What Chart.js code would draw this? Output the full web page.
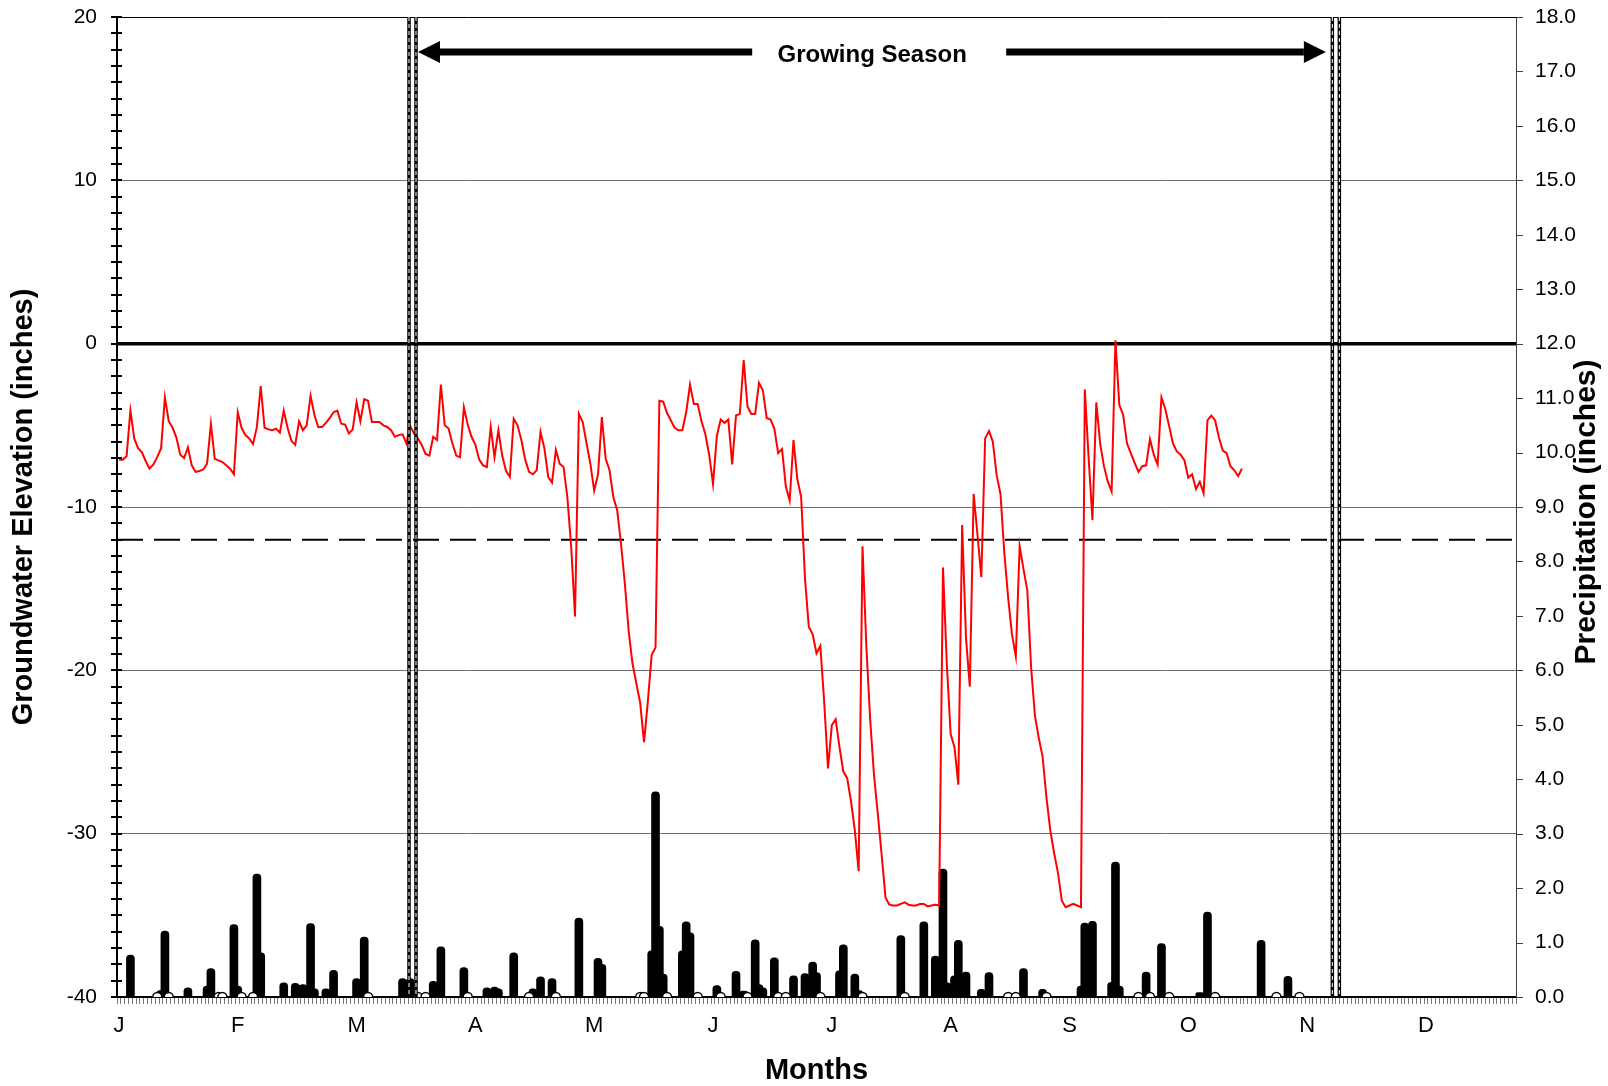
<!DOCTYPE html>
<html>
<head>
<meta charset="utf-8">
<title>Groundwater Elevation and Precipitation</title>
<script src="https://cdn.jsdelivr.net/npm/chart.js"></script>
<style>
  body { margin: 0; background: #fff; }
  #wrap { width: 1608px; height: 1086px; }
</style>
</head>
<body>
<div id="wrap"><canvas id="gwChart" width="1608" height="1086"></canvas></div>
<script>
// month labels, one every 31 days along a 365 day axis
var monthLabels = ['J', 'F', 'M', 'A', 'M', 'J', 'J', 'A', 'S', 'O', 'N', 'D'];
var labelEvery = 31;
var dayCount = 365;

// daily groundwater elevation (inches), from Jan 1
var groundwater = [
  -7.1, -7.1, -6.9, -4.1, -5.8, -6.4, -6.65, -7.2, -7.65, -7.4,
  -6.95, -6.4, -3.3, -4.75, -5.15, -5.75, -6.8, -7.0, -6.35, -7.45,
  -7.85, -7.8, -7.7, -7.35, -4.9, -7.05, -7.15, -7.25, -7.45, -7.65,
  -8.0, -4.2, -5.15, -5.6, -5.8, -6.15, -5.1, -2.6, -5.15, -5.25,
  -5.3, -5.2, -5.45, -4.1, -5.15, -5.95, -6.2, -4.75, -5.3, -5.0,
  -3.2, -4.35, -5.1, -5.1, -4.85, -4.55, -4.2, -4.1, -4.9, -4.95,
  -5.5, -5.25, -3.6, -4.75, -3.4, -3.5, -4.8, -4.8, -4.8, -5.0,
  -5.1, -5.3, -5.7, -5.6, -5.55, -6.1, -5.05, -5.5, -5.8, -6.2,
  -6.75, -6.85, -5.7, -5.9, -2.5, -5.0, -5.2, -6.1, -6.85, -6.95,
  -3.9, -4.95, -5.7, -6.2, -7.1, -7.45, -7.55, -5.1, -6.95, -5.3,
  -6.85, -7.8, -8.15, -4.6, -5.0, -5.9, -7.1, -7.85, -8.0, -7.75,
  -5.4, -6.4, -8.15, -8.5, -6.5, -7.35, -7.55, -9.4, -12.45, -16.7,
  -4.3, -4.8, -6.1, -7.35, -9.0, -8.0, -4.5, -7.05, -7.75, -9.4,
  -10.2, -12.25, -14.7, -17.6, -19.6, -20.8, -22.0, -24.4, -21.9, -19.05,
  -18.6, -3.5, -3.55, -4.25, -4.7, -5.15, -5.3, -5.3, -4.2, -2.5,
  -3.7, -3.7, -4.75, -5.55, -6.8, -8.6, -5.65, -4.65, -4.85, -4.65,
  -7.4, -4.4, -4.3, -1.0, -3.85, -4.3, -4.3, -2.4, -2.85, -4.55,
  -4.65, -5.2, -6.7, -6.45, -8.75, -9.6, -5.9, -8.3, -9.4, -14.4,
  -17.35, -17.8, -18.95, -18.5, -21.9, -26.0, -23.35, -23.0, -24.7, -26.2,
  -26.6, -28.0, -29.8, -32.3, -12.4, -18.5, -23.0, -26.4, -28.8, -31.3,
  -33.9, -34.35, -34.4, -34.4, -34.3, -34.2, -34.35, -34.4, -34.4, -34.3,
  -34.3, -34.45, -34.4, -34.35, -34.4, -13.7, -19.6, -23.9, -24.7, -27.0,
  -11.1, -18.0, -21.0, -9.2, -11.7, -14.3, -5.8, -5.35, -6.0, -8.05,
  -9.2, -12.8, -15.55, -17.8, -19.15, -12.4, -13.8, -15.1, -19.85, -22.8,
  -24.15, -25.3, -27.8, -29.8, -31.2, -32.4, -34.1, -34.5, -34.4, -34.3,
  -34.4, -34.5, -2.8, -7.0, -10.8, -3.6, -6.1, -7.5, -8.45, -9.05,
  0.2, -3.75, -4.35, -6.1, -6.7, -7.3, -7.85, -7.5, -7.45, -5.85,
  -6.8, -7.4, -3.3, -4.0, -5.05, -6.1, -6.6, -6.8, -7.15, -8.2,
  -8.0, -8.9, -8.45, -9.15, -4.7, -4.4, -4.7, -5.75, -6.55, -6.7,
  -7.5, -7.75, -8.1, -7.65
];

// daily precipitation (inches): day index (0 = Jan 1) and amount
var rainDays = [
  3, 11, 12, 18, 23, 24, 30, 31, 36, 37, 43, 46, 47, 48, 50, 51, 54, 56,
  62, 64, 74, 76, 82, 84, 90, 96, 98, 99, 103, 108, 110, 113, 120, 125, 126,
  139, 140, 141, 142, 147, 148, 149, 156, 161, 163, 166, 167, 168, 171, 176,
  179, 181, 182, 188, 189, 192, 193, 204, 210, 213, 215, 216, 218, 219, 221,
  225, 227, 236, 241, 251, 252, 254, 259, 260, 261, 268, 272, 282, 284, 298, 305
];
var rainInches = [
  0.77, 0.12, 1.21, 0.17, 0.2, 0.52, 1.33, 0.2, 2.26, 0.81, 0.26, 0.25, 0.21, 0.23, 1.35, 0.15, 0.15, 0.49,
  0.34, 1.1, 0.34, 0.34, 0.29, 0.92, 0.54, 0.17, 0.18, 0.15, 0.81, 0.15, 0.37, 0.34, 1.45, 0.71, 0.6,
  0.85, 3.77, 1.3, 0.42, 0.85, 1.38, 1.18, 0.21, 0.47, 0.11, 1.05, 0.23, 0.17, 0.72, 0.39,
  0.43, 0.64, 0.45, 0.48, 0.96, 0.42, 0.12, 1.13, 1.38, 0.75, 2.35, 0.26, 0.39, 1.04, 0.46,
  0.14, 0.45, 0.52, 0.14, 0.2, 1.36, 1.39, 0.27, 2.48, 0.2, 0.46, 0.98, 0.08, 1.56, 1.04, 0.38
];

// days with a trace of rain (open circles on the baseline)
var traceDays = [
  10, 13, 26, 27, 32, 35, 65, 78, 80, 91, 107, 114, 136, 137, 143, 151, 157,
  164, 172, 174, 183, 194, 205, 232, 234, 242, 266, 269, 274, 286, 302, 308
];

var thresholdLevel = -12;          // dashed reference line
var growingSeason = [76.6, 317.5]; // start / end of growing season (day index)
var arrowLevel = 17.85;            // height of the Growing Season arrows

var days = [];
var rainSeries = [];
var traceSeries = [];
for (var i = 0; i < dayCount; i++) {
  days.push(String(i + 1));
  rainSeries.push(null);
  traceSeries.push(null);
}
rainDays.forEach(function (d, k) { rainSeries[d] = rainInches[k]; });
traceDays.forEach(function (d) { traceSeries[d] = 0; });

Chart.defaults.font.family = "'Liberation Sans', Arial, sans-serif";
Chart.defaults.color = '#000';

function drawArrow(ctx, fromX, toX, y) {
  var dir = toX > fromX ? 1 : -1;
  var headLen = 22, headHalf = 11;
  ctx.beginPath();
  ctx.lineWidth = 7;
  ctx.strokeStyle = '#000';
  ctx.moveTo(fromX, y);
  ctx.lineTo(toX - dir * headLen, y);
  ctx.stroke();
  ctx.beginPath();
  ctx.fillStyle = '#000';
  ctx.moveTo(toX, y);
  ctx.lineTo(toX - dir * headLen, y - headHalf);
  ctx.lineTo(toX - dir * headLen, y + headHalf);
  ctx.closePath();
  ctx.fill();
}

function drawDoubleLine(ctx, x, top, bottom) {
  [-3.5, 3.5].forEach(function (dx) {
    ctx.beginPath();
    ctx.lineWidth = 3.5;
    ctx.strokeStyle = '#000';
    ctx.setLineDash([]);
    ctx.moveTo(x + dx, top);
    ctx.lineTo(x + dx, bottom);
    ctx.stroke();
    ctx.beginPath();
    ctx.lineWidth = 1;
    ctx.strokeStyle = '#fff';
    ctx.setLineDash([4, 3]);
    ctx.moveTo(x + dx, top);
    ctx.lineTo(x + dx, bottom);
    ctx.stroke();
  });
  ctx.setLineDash([]);
}

var decorPlugin = {
  id: 'decor',
  beforeDatasetsDraw: function (chart) {
    var ctx = chart.ctx, area = chart.chartArea;
    var y = chart.scales.y.getPixelForValue(thresholdLevel);
    ctx.save();
    ctx.beginPath();
    ctx.lineWidth = 2;
    ctx.strokeStyle = '#000';
    ctx.setLineDash([26, 11]);
    ctx.moveTo(area.left, y);
    ctx.lineTo(area.right, y);
    ctx.stroke();
    ctx.restore();
  },
  afterDatasetsDraw: function (chart) {
    var ctx = chart.ctx, area = chart.chartArea;
    var xs = chart.scales.x, ys = chart.scales.y, yr = chart.scales.yR;
    ctx.save();

    // growing season boundaries
    var x1 = xs.getPixelForValue(growingSeason[0]);
    var x2 = xs.getPixelForValue(growingSeason[1]);
    drawDoubleLine(ctx, x1, area.top, area.bottom);
    drawDoubleLine(ctx, x2, area.top, area.bottom);

    // arrows and label
    var ay = ys.getPixelForValue(arrowLevel);
    var mid = (x1 + x2) / 2 - 2;
    drawArrow(ctx, mid - 120, x1 + 5.5, ay);
    drawArrow(ctx, mid + 134, x2 - 10, ay);
    ctx.font = "bold 24px 'Liberation Sans', Arial, sans-serif";
    ctx.fillStyle = '#000';
    ctx.textAlign = 'center';
    ctx.textBaseline = 'middle';
    ctx.fillText('Growing Season', mid, ay + 3);

    // minor ticks crossing the left axis
    ctx.lineWidth = 2;
    ctx.strokeStyle = '#000';
    for (var v = ys.min; v <= ys.max; v++) {
      var ty = Math.round(ys.getPixelForValue(v));
      ctx.beginPath();
      ctx.moveTo(area.left - 6, ty);
      ctx.lineTo(area.left + 5, ty);
      ctx.stroke();
    }

    // outward ticks on the right axis
    ctx.lineWidth = 1;
    ctx.strokeStyle = '#404040';
    for (var r = yr.min; r <= yr.max; r++) {
      var ry = Math.round(yr.getPixelForValue(r)) + 0.5;
      ctx.beginPath();
      ctx.moveTo(area.right, ry);
      ctx.lineTo(area.right + 7, ry);
      ctx.stroke();
    }

    // right axis title, reading bottom to top
    ctx.translate(yr.right - 21, (area.top + area.bottom) / 2 + 5);
    ctx.rotate(-Math.PI / 2);
    ctx.font = "bold 30px 'Liberation Sans', Arial, sans-serif";
    ctx.fillText('Precipitation (inches)', 0, 0);
    ctx.restore();
  }
};

var ctx = document.getElementById('gwChart').getContext('2d');
var chart = new Chart(ctx, {
  type: 'bar',
  data: {
    labels: days,
    datasets: [{
      type: 'line',
      label: 'Groundwater',
      data: groundwater,
      yAxisID: 'y',
      borderColor: '#ff0000',
      borderWidth: 2,
      pointRadius: 0,
      tension: 0,
      order: 0
    }, {
      type: 'line',
      label: 'Trace',
      data: traceSeries,
      yAxisID: 'yR',
      showLine: false,
      pointRadius: 4.5,
      pointBackgroundColor: '#fff',
      pointBorderColor: '#000',
      pointBorderWidth: 1.5,
      clip: 0,
      order: 1
    }, {
      label: 'Precipitation',
      data: rainSeries,
      yAxisID: 'yR',
      backgroundColor: '#000',
      barThickness: 8,
      borderRadius: 4,
      order: 2
    }]
  },
  options: {
    responsive: false,
    animation: false,
    layout: { padding: { top: 17, left: 0, right: 0, bottom: 0 } },
    plugins: {
      legend: { display: false },
      tooltip: { enabled: false }
    },
    scales: {
      x: {
        offset: true,
        grid: { offset: true, drawOnChartArea: false, tickLength: 7, color: '#777', lineWidth: 1 },
        border: { color: '#000', width: 2 },
        ticks: {
          autoSkip: false,
          maxRotation: 0,
          minRotation: 0,
          padding: 9,
          font: { size: 22 },
          callback: function (value, index) {
            return index % labelEvery === 0 ? monthLabels[index / labelEvery] : '';
          }
        },
        title: {
          display: true,
          text: 'Months',
          font: { size: 29, weight: 'bold', lineHeight: 1 },
          padding: { top: 0, bottom: 1 }
        },
        afterFit: function (scale) { scale.height = 89; }
      },
      y: {
        position: 'left',
        min: -40,
        max: 20,
        ticks: {
          stepSize: 1,
          autoSkip: false,
          padding: 0,
          font: { size: 21 },
          callback: function (value) { return value % 10 === 0 ? value : ''; }
        },
        grid: {
          drawTicks: true,
          tickLength: 20,
          tickColor: 'rgba(0,0,0,0)',
          color: function (c) {
            var v = c.tick ? c.tick.value : null;
            if (v === 0 || v === 20) return '#000';
            if (v % 10 === 0) return '#707070';
            return 'rgba(0,0,0,0)';
          },
          lineWidth: function (c) {
            return c.tick && c.tick.value === 0 ? 3.5 : 1;
          }
        },
        border: { color: '#000', width: 2 },
        title: {
          display: true,
          text: 'Groundwater Elevation (inches)',
          font: { size: 29, weight: 'bold' },
          padding: { top: 7, bottom: 0 }
        },
        afterFit: function (scale) { scale.width = 117; }
      },
      yR: {
        position: 'right',
        min: 0,
        max: 18,
        ticks: {
          stepSize: 1,
          padding: 0,
          font: { size: 21 },
          callback: function (value) { return value.toFixed(1); }
        },
        grid: { drawOnChartArea: false, tickLength: 19, tickColor: 'rgba(0,0,0,0)' },
        border: { color: '#404040', width: 1 },
        afterFit: function (scale) { scale.width = 92; }
      }
    }
  },
  plugins: [decorPlugin]
});
</script>
</body>
</html>
